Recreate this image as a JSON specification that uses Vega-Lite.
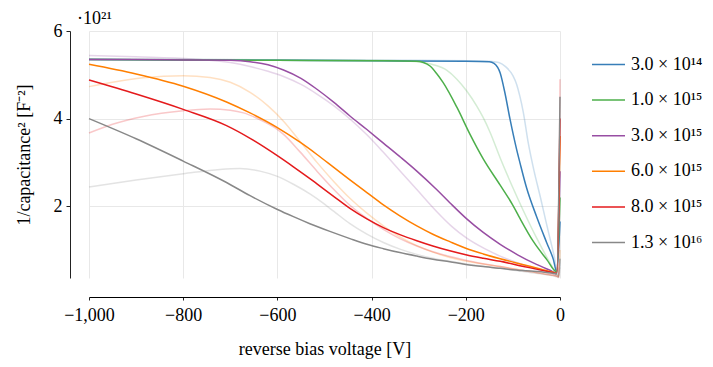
{
  "$schema": "https://vega.github.io/schema/vega-lite/v6.json",
  "width": 471,
  "height": 247,
  "autosize": "none",
  "padding": {"left": 89, "top": 31, "right": 153, "bottom": 89},
  "background": "white",
  "config": {
    "view": {"stroke": null},
    "font": "Liberation Serif",
    "axis": {
      "labelFont": "Liberation Serif",
      "titleFont": "Liberation Serif",
      "labelFontSize": 18,
      "titleFontSize": 18,
      "titleFontWeight": "normal",
      "labelColor": "black",
      "titleColor": "black",
      "domainColor": "#222",
      "tickColor": "#222",
      "gridColor": "#e8e8e8",
      "gridWidth": 1
    },
    "legend": {"labelFont": "Liberation Serif", "labelFontSize": 18, "labelColor": "black"}
  },
  "title": {
    "text": "·10²¹",
    "anchor": "start",
    "frame": "group",
    "dx": -12,
    "dy": 14,
    "offset": 8,
    "fontSize": 18,
    "font": "Liberation Serif",
    "fontWeight": "normal",
    "color": "black"
  },
  "datasets": {
    "main": [
      {"s":"3.0 × 10¹⁴","v":-1000,"c":5.35},{"s":"3.0 × 10¹⁴","v":-800,"c":5.34},{"s":"3.0 × 10¹⁴","v":-600,"c":5.33},{"s":"3.0 × 10¹⁴","v":-400,"c":5.32},{"s":"3.0 × 10¹⁴","v":-200,"c":5.31},{"s":"3.0 × 10¹⁴","v":-150,"c":5.30},{"s":"3.0 × 10¹⁴","v":-140,"c":5.26},{"s":"3.0 × 10¹⁴","v":-127,"c":5.04},{"s":"3.0 × 10¹⁴","v":-117,"c":4.59},{"s":"3.0 × 10¹⁴","v":-106,"c":3.98},{"s":"3.0 × 10¹⁴","v":-92,"c":3.29},{"s":"3.0 × 10¹⁴","v":-85,"c":2.99},{"s":"3.0 × 10¹⁴","v":-71,"c":2.42},{"s":"3.0 × 10¹⁴","v":-50,"c":1.77},{"s":"3.0 × 10¹⁴","v":-28,"c":1.16},{"s":"3.0 × 10¹⁴","v":-14,"c":0.78},{"s":"3.0 × 10¹⁴","v":-7,"c":0.50},{"s":"3.0 × 10¹⁴","v":0,"c":1.65},

      {"s":"1.0 × 10¹⁵","v":-1000,"c":5.35},{"s":"1.0 × 10¹⁵","v":-800,"c":5.34},{"s":"1.0 × 10¹⁵","v":-600,"c":5.33},{"s":"1.0 × 10¹⁵","v":-400,"c":5.32},{"s":"1.0 × 10¹⁵","v":-304,"c":5.31},{"s":"1.0 × 10¹⁵","v":-290,"c":5.28},{"s":"1.0 × 10¹⁵","v":-276,"c":5.20},{"s":"1.0 × 10¹⁵","v":-262,"c":5.03},{"s":"1.0 × 10¹⁵","v":-248,"c":4.82},{"s":"1.0 × 10¹⁵","v":-219,"c":4.26},{"s":"1.0 × 10¹⁵","v":-191,"c":3.64},{"s":"1.0 × 10¹⁵","v":-163,"c":3.08},{"s":"1.0 × 10¹⁵","v":-127,"c":2.48},{"s":"1.0 × 10¹⁵","v":-100,"c":2.02},{"s":"1.0 × 10¹⁵","v":-85,"c":1.72},{"s":"1.0 × 10¹⁵","v":-57,"c":1.20},{"s":"1.0 × 10¹⁵","v":-28,"c":0.78},{"s":"1.0 × 10¹⁵","v":-7,"c":0.50},{"s":"1.0 × 10¹⁵","v":0,"c":2.2},

      {"s":"3.0 × 10¹⁵","v":-1000,"c":5.35},{"s":"3.0 × 10¹⁵","v":-900,"c":5.35},{"s":"3.0 × 10¹⁵","v":-800,"c":5.34},{"s":"3.0 × 10¹⁵","v":-700,"c":5.33},{"s":"3.0 × 10¹⁵","v":-658,"c":5.30},{"s":"3.0 × 10¹⁵","v":-620,"c":5.23},{"s":"3.0 × 10¹⁵","v":-587,"c":5.11},{"s":"3.0 × 10¹⁵","v":-550,"c":4.92},{"s":"3.0 × 10¹⁵","v":-516,"c":4.67},{"s":"3.0 × 10¹⁵","v":-480,"c":4.37},{"s":"3.0 × 10¹⁵","v":-446,"c":4.06},{"s":"3.0 × 10¹⁵","v":-410,"c":3.75},{"s":"3.0 × 10¹⁵","v":-375,"c":3.44},{"s":"3.0 × 10¹⁵","v":-340,"c":3.13},{"s":"3.0 × 10¹⁵","v":-304,"c":2.80},{"s":"3.0 × 10¹⁵","v":-262,"c":2.38},{"s":"3.0 × 10¹⁵","v":-234,"c":2.08},{"s":"3.0 × 10¹⁵","v":-198,"c":1.71},{"s":"3.0 × 10¹⁵","v":-163,"c":1.40},{"s":"3.0 × 10¹⁵","v":-127,"c":1.13},{"s":"3.0 × 10¹⁵","v":-90,"c":0.89},{"s":"3.0 × 10¹⁵","v":-50,"c":0.67},{"s":"3.0 × 10¹⁵","v":-20,"c":0.53},{"s":"3.0 × 10¹⁵","v":-7,"c":0.47},{"s":"3.0 × 10¹⁵","v":0,"c":2.8},

      {"s":"6.0 × 10¹⁵","v":-1000,"c":5.24},{"s":"6.0 × 10¹⁵","v":-900,"c":5.02},{"s":"6.0 × 10¹⁵","v":-800,"c":4.74},{"s":"6.0 × 10¹⁵","v":-708,"c":4.38},{"s":"6.0 × 10¹⁵","v":-658,"c":4.13},{"s":"6.0 × 10¹⁵","v":-601,"c":3.80},{"s":"6.0 × 10¹⁵","v":-552,"c":3.46},{"s":"6.0 × 10¹⁵","v":-516,"c":3.18},{"s":"6.0 × 10¹⁵","v":-481,"c":2.89},{"s":"6.0 × 10¹⁵","v":-446,"c":2.60},{"s":"6.0 × 10¹⁵","v":-410,"c":2.31},{"s":"6.0 × 10¹⁵","v":-375,"c":2.03},{"s":"6.0 × 10¹⁵","v":-340,"c":1.78},{"s":"6.0 × 10¹⁵","v":-304,"c":1.55},{"s":"6.0 × 10¹⁵","v":-270,"c":1.36},{"s":"6.0 × 10¹⁵","v":-234,"c":1.19},{"s":"6.0 × 10¹⁵","v":-200,"c":1.04},{"s":"6.0 × 10¹⁵","v":-163,"c":0.91},{"s":"6.0 × 10¹⁵","v":-127,"c":0.80},{"s":"6.0 × 10¹⁵","v":-80,"c":0.67},{"s":"6.0 × 10¹⁵","v":-40,"c":0.56},{"s":"6.0 × 10¹⁵","v":-15,"c":0.49},{"s":"6.0 × 10¹⁵","v":-7,"c":0.46},{"s":"6.0 × 10¹⁵","v":0,"c":3.6},

      {"s":"8.0 × 10¹⁵","v":-1000,"c":4.88},{"s":"8.0 × 10¹⁵","v":-900,"c":4.56},{"s":"8.0 × 10¹⁵","v":-800,"c":4.21},{"s":"8.0 × 10¹⁵","v":-708,"c":3.84},{"s":"8.0 × 10¹⁵","v":-658,"c":3.55},{"s":"8.0 × 10¹⁵","v":-601,"c":3.16},{"s":"8.0 × 10¹⁵","v":-566,"c":2.90},{"s":"8.0 × 10¹⁵","v":-531,"c":2.63},{"s":"8.0 × 10¹⁵","v":-516,"c":2.51},{"s":"8.0 × 10¹⁵","v":-480,"c":2.22},{"s":"8.0 × 10¹⁵","v":-446,"c":1.95},{"s":"8.0 × 10¹⁵","v":-410,"c":1.71},{"s":"8.0 × 10¹⁵","v":-375,"c":1.51},{"s":"8.0 × 10¹⁵","v":-340,"c":1.35},{"s":"8.0 × 10¹⁵","v":-304,"c":1.21},{"s":"8.0 × 10¹⁵","v":-270,"c":1.09},{"s":"8.0 × 10¹⁵","v":-234,"c":0.98},{"s":"8.0 × 10¹⁵","v":-200,"c":0.89},{"s":"8.0 × 10¹⁵","v":-163,"c":0.81},{"s":"8.0 × 10¹⁵","v":-127,"c":0.74},{"s":"8.0 × 10¹⁵","v":-80,"c":0.63},{"s":"8.0 × 10¹⁵","v":-40,"c":0.54},{"s":"8.0 × 10¹⁵","v":-15,"c":0.48},{"s":"8.0 × 10¹⁵","v":-7,"c":0.46},{"s":"8.0 × 10¹⁵","v":0,"c":4.0},

      {"s":"1.3 × 10¹⁶","v":-1000,"c":4.00},{"s":"1.3 × 10¹⁶","v":-900,"c":3.54},{"s":"1.3 × 10¹⁶","v":-800,"c":3.03},{"s":"1.3 × 10¹⁶","v":-708,"c":2.54},{"s":"1.3 × 10¹⁶","v":-658,"c":2.24},{"s":"1.3 × 10¹⁶","v":-601,"c":1.93},{"s":"1.3 × 10¹⁶","v":-566,"c":1.76},{"s":"1.3 × 10¹⁶","v":-531,"c":1.60},{"s":"1.3 × 10¹⁶","v":-490,"c":1.43},{"s":"1.3 × 10¹⁶","v":-446,"c":1.26},{"s":"1.3 × 10¹⁶","v":-410,"c":1.13},{"s":"1.3 × 10¹⁶","v":-375,"c":1.03},{"s":"1.3 × 10¹⁶","v":-340,"c":0.94},{"s":"1.3 × 10¹⁶","v":-304,"c":0.86},{"s":"1.3 × 10¹⁶","v":-270,"c":0.79},{"s":"1.3 × 10¹⁶","v":-234,"c":0.73},{"s":"1.3 × 10¹⁶","v":-200,"c":0.67},{"s":"1.3 × 10¹⁶","v":-163,"c":0.62},{"s":"1.3 × 10¹⁶","v":-127,"c":0.58},{"s":"1.3 × 10¹⁶","v":-80,"c":0.53},{"s":"1.3 × 10¹⁶","v":-40,"c":0.50},{"s":"1.3 × 10¹⁶","v":-15,"c":0.47},{"s":"1.3 × 10¹⁶","v":-7,"c":0.45},{"s":"1.3 × 10¹⁶","v":0,"c":4.5}
    ],
    "faded": [
      {"s":"3.0 × 10¹⁴","v":-1000,"c":5.36},{"s":"3.0 × 10¹⁴","v":-600,"c":5.34},{"s":"3.0 × 10¹⁴","v":-300,"c":5.33},{"s":"3.0 × 10¹⁴","v":-150,"c":5.31},{"s":"3.0 × 10¹⁴","v":-130,"c":5.28},{"s":"3.0 × 10¹⁴","v":-115,"c":5.18},{"s":"3.0 × 10¹⁴","v":-100,"c":4.98},{"s":"3.0 × 10¹⁴","v":-92,"c":4.78},{"s":"3.0 × 10¹⁴","v":-85,"c":4.50},{"s":"3.0 × 10¹⁴","v":-78,"c":4.15},{"s":"3.0 × 10¹⁴","v":-67,"c":3.42},{"s":"3.0 × 10¹⁴","v":-55,"c":2.80},{"s":"3.0 × 10¹⁴","v":-42,"c":2.22},{"s":"3.0 × 10¹⁴","v":-30,"c":1.66},{"s":"3.0 × 10¹⁴","v":-21,"c":1.25},{"s":"3.0 × 10¹⁴","v":-12,"c":0.84},{"s":"3.0 × 10¹⁴","v":-6,"c":0.50},{"s":"3.0 × 10¹⁴","v":-3,"c":0.40},{"s":"3.0 × 10¹⁴","v":0,"c":0.8},

      {"s":"1.0 × 10¹⁵","v":-1000,"c":5.36},{"s":"1.0 × 10¹⁵","v":-600,"c":5.34},{"s":"1.0 × 10¹⁵","v":-400,"c":5.33},{"s":"1.0 × 10¹⁵","v":-340,"c":5.32},{"s":"1.0 × 10¹⁵","v":-300,"c":5.29},{"s":"1.0 × 10¹⁵","v":-269,"c":5.23},{"s":"1.0 × 10¹⁵","v":-240,"c":5.10},{"s":"1.0 × 10¹⁵","v":-219,"c":4.90},{"s":"1.0 × 10¹⁵","v":-198,"c":4.63},{"s":"1.0 × 10¹⁵","v":-177,"c":4.29},{"s":"1.0 × 10¹⁵","v":-163,"c":4.02},{"s":"1.0 × 10¹⁵","v":-149,"c":3.70},{"s":"1.0 × 10¹⁵","v":-127,"c":3.10},{"s":"1.0 × 10¹⁵","v":-100,"c":2.42},{"s":"1.0 × 10¹⁵","v":-78,"c":1.90},{"s":"1.0 × 10¹⁵","v":-50,"c":1.28},{"s":"1.0 × 10¹⁵","v":-21,"c":0.70},{"s":"1.0 × 10¹⁵","v":-7,"c":0.45},{"s":"1.0 × 10¹⁵","v":-3,"c":0.40},{"s":"1.0 × 10¹⁵","v":0,"c":0.8},

      {"s":"3.0 × 10¹⁵","v":-1000,"c":5.44},{"s":"3.0 × 10¹⁵","v":-900,"c":5.41},{"s":"3.0 × 10¹⁵","v":-780,"c":5.36},{"s":"3.0 × 10¹⁵","v":-700,"c":5.28},{"s":"3.0 × 10¹⁵","v":-658,"c":5.19},{"s":"3.0 × 10¹⁵","v":-620,"c":5.08},{"s":"3.0 × 10¹⁵","v":-587,"c":4.96},{"s":"3.0 × 10¹⁵","v":-550,"c":4.78},{"s":"3.0 × 10¹⁵","v":-516,"c":4.56},{"s":"3.0 × 10¹⁵","v":-480,"c":4.29},{"s":"3.0 × 10¹⁵","v":-446,"c":3.99},{"s":"3.0 × 10¹⁵","v":-410,"c":3.63},{"s":"3.0 × 10¹⁵","v":-375,"c":3.23},{"s":"3.0 × 10¹⁵","v":-340,"c":2.81},{"s":"3.0 × 10¹⁵","v":-304,"c":2.38},{"s":"3.0 × 10¹⁵","v":-262,"c":1.88},{"s":"3.0 × 10¹⁵","v":-230,"c":1.54},{"s":"3.0 × 10¹⁵","v":-198,"c":1.27},{"s":"3.0 × 10¹⁵","v":-160,"c":1.03},{"s":"3.0 × 10¹⁵","v":-127,"c":0.86},{"s":"3.0 × 10¹⁵","v":-70,"c":0.63},{"s":"3.0 × 10¹⁵","v":-30,"c":0.49},{"s":"3.0 × 10¹⁵","v":-7,"c":0.41},{"s":"3.0 × 10¹⁵","v":-3,"c":0.39},{"s":"3.0 × 10¹⁵","v":0,"c":0.8},

      {"s":"6.0 × 10¹⁵","v":-1000,"c":4.73},{"s":"6.0 × 10¹⁵","v":-950,"c":4.83},{"s":"6.0 × 10¹⁵","v":-885,"c":4.93},{"s":"6.0 × 10¹⁵","v":-800,"c":4.98},{"s":"6.0 × 10¹⁵","v":-743,"c":4.94},{"s":"6.0 × 10¹⁵","v":-700,"c":4.83},{"s":"6.0 × 10¹⁵","v":-658,"c":4.60},{"s":"6.0 × 10¹⁵","v":-620,"c":4.29},{"s":"6.0 × 10¹⁵","v":-587,"c":3.94},{"s":"6.0 × 10¹⁵","v":-552,"c":3.48},{"s":"6.0 × 10¹⁵","v":-516,"c":3.00},{"s":"6.0 × 10¹⁵","v":-480,"c":2.56},{"s":"6.0 × 10¹⁵","v":-446,"c":2.18},{"s":"6.0 × 10¹⁵","v":-410,"c":1.84},{"s":"6.0 × 10¹⁵","v":-375,"c":1.55},{"s":"6.0 × 10¹⁵","v":-340,"c":1.30},{"s":"6.0 × 10¹⁵","v":-304,"c":1.10},{"s":"6.0 × 10¹⁵","v":-270,"c":0.95},{"s":"6.0 × 10¹⁵","v":-234,"c":0.83},{"s":"6.0 × 10¹⁵","v":-180,"c":0.71},{"s":"6.0 × 10¹⁵","v":-127,"c":0.62},{"s":"6.0 × 10¹⁵","v":-60,"c":0.50},{"s":"6.0 × 10¹⁵","v":-20,"c":0.43},{"s":"6.0 × 10¹⁵","v":-6,"c":0.40},{"s":"6.0 × 10¹⁵","v":-3,"c":0.38},{"s":"6.0 × 10¹⁵","v":0,"c":1.0},

      {"s":"8.0 × 10¹⁵","v":-1000,"c":3.67},{"s":"8.0 × 10¹⁵","v":-950,"c":3.87},{"s":"8.0 × 10¹⁵","v":-885,"c":4.05},{"s":"8.0 × 10¹⁵","v":-800,"c":4.18},{"s":"8.0 × 10¹⁵","v":-743,"c":4.22},{"s":"8.0 × 10¹⁵","v":-700,"c":4.19},{"s":"8.0 × 10¹⁵","v":-672,"c":4.13},{"s":"8.0 × 10¹⁵","v":-640,"c":3.99},{"s":"8.0 × 10¹⁵","v":-601,"c":3.76},{"s":"8.0 × 10¹⁵","v":-587,"c":3.64},{"s":"8.0 × 10¹⁵","v":-552,"c":3.24},{"s":"8.0 × 10¹⁵","v":-516,"c":2.80},{"s":"8.0 × 10¹⁵","v":-480,"c":2.38},{"s":"8.0 × 10¹⁵","v":-446,"c":2.02},{"s":"8.0 × 10¹⁵","v":-410,"c":1.72},{"s":"8.0 × 10¹⁵","v":-375,"c":1.47},{"s":"8.0 × 10¹⁵","v":-340,"c":1.26},{"s":"8.0 × 10¹⁵","v":-304,"c":1.09},{"s":"8.0 × 10¹⁵","v":-270,"c":0.96},{"s":"8.0 × 10¹⁵","v":-234,"c":0.85},{"s":"8.0 × 10¹⁵","v":-180,"c":0.72},{"s":"8.0 × 10¹⁵","v":-127,"c":0.62},{"s":"8.0 × 10¹⁵","v":-60,"c":0.50},{"s":"8.0 × 10¹⁵","v":-20,"c":0.43},{"s":"8.0 × 10¹⁵","v":-6,"c":0.40},{"s":"8.0 × 10¹⁵","v":-3,"c":0.38},{"s":"8.0 × 10¹⁵","v":0,"c":4.9},

      {"s":"1.3 × 10¹⁶","v":-1000,"c":2.44},{"s":"1.3 × 10¹⁶","v":-900,"c":2.60},{"s":"1.3 × 10¹⁶","v":-800,"c":2.74},{"s":"1.3 × 10¹⁶","v":-722,"c":2.84},{"s":"1.3 × 10¹⁶","v":-680,"c":2.86},{"s":"1.3 × 10¹⁶","v":-637,"c":2.80},{"s":"1.3 × 10¹⁶","v":-600,"c":2.68},{"s":"1.3 × 10¹⁶","v":-566,"c":2.50},{"s":"1.3 × 10¹⁶","v":-531,"c":2.28},{"s":"1.3 × 10¹⁶","v":-516,"c":2.17},{"s":"1.3 × 10¹⁶","v":-480,"c":1.88},{"s":"1.3 × 10¹⁶","v":-446,"c":1.60},{"s":"1.3 × 10¹⁶","v":-410,"c":1.36},{"s":"1.3 × 10¹⁶","v":-375,"c":1.17},{"s":"1.3 × 10¹⁶","v":-340,"c":1.02},{"s":"1.3 × 10¹⁶","v":-304,"c":0.90},{"s":"1.3 × 10¹⁶","v":-270,"c":0.81},{"s":"1.3 × 10¹⁶","v":-234,"c":0.74},{"s":"1.3 × 10¹⁶","v":-180,"c":0.65},{"s":"1.3 × 10¹⁶","v":-127,"c":0.58},{"s":"1.3 × 10¹⁶","v":-60,"c":0.48},{"s":"1.3 × 10¹⁶","v":-20,"c":0.42},{"s":"1.3 × 10¹⁶","v":-6,"c":0.38},{"s":"1.3 × 10¹⁶","v":-3,"c":0.37},{"s":"1.3 × 10¹⁶","v":0,"c":0.6}
    ]
  },
  "encoding": {
    "x": {
      "field": "v",
      "type": "quantitative",
      "scale": {"domain": [-1000, 0], "nice": false, "zero": false},
      "axis": {
        "title": "reverse bias voltage [V]",
        "values": [-1000, -800, -600, -400, -200, 0],
        "format": ",d",
        "offset": 19,
        "tickSize": 3,
        "labelPadding": 6,
        "titlePadding": 16,
        "domainColor": "black",
        "labelFlush": false,
        "grid": true
      }
    },
    "y": {
      "field": "c",
      "type": "quantitative",
      "scale": {"domain": [0.36, 6], "nice": false, "zero": false},
      "axis": {
        "title": "1/capacitance² [F⁻²]",
        "values": [2, 4, 6],
        "offset": 19,
        "tickSize": 4,
        "labelPadding": 4,
        "titlePadding": 20,
        "labelFlush": false,
        "grid": true
      }
    },
    "color": {
      "field": "s",
      "type": "nominal",
      "scale": {
        "domain": ["3.0 × 10¹⁴", "1.0 × 10¹⁵", "3.0 × 10¹⁵", "6.0 × 10¹⁵", "8.0 × 10¹⁵", "1.3 × 10¹⁶"],
        "range": ["#377eb8", "#4daf4a", "#984ea3", "#ff7f00", "#e41a1c", "#888888"]
      },
      "legend": {
        "title": null,
        "orient": "none",
        "legendX": 502,
        "legendY": 16,
        "padding": 0,
        "symbolType": "stroke",
        "symbolSize": 1089,
        "symbolStrokeWidth": 1.5,
        "symbolOpacity": 1,
        "labelOffset": 5,
        "rowPadding": 8.6
      }
    }
  },
  "layer": [
    {
      "data": {"name": "faded"},
      "mark": {"type": "line", "interpolate": "monotone", "strokeWidth": 1.5, "opacity": 0.24}
    },
    {
      "data": {"name": "main"},
      "mark": {"type": "line", "interpolate": "monotone", "strokeWidth": 1.5}
    }
  ]
}
